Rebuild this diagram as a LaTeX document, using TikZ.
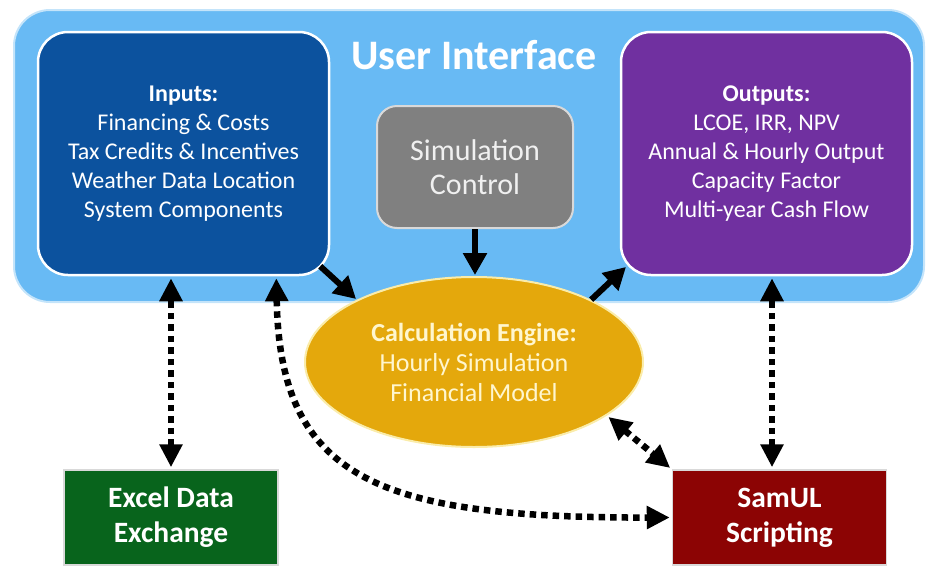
\documentclass[tikz,border=0pt]{standalone}
\usepackage{fontspec}
\setmainfont{Carlito}
\usetikzlibrary{arrows.meta,shapes.geometric}

\definecolor{uiblue}{RGB}{104,186,244}
\definecolor{uiedge}{RGB}{196,228,250}
\definecolor{inblue}{RGB}{12,82,158}
\definecolor{outpurple}{RGB}{112,48,160}
\definecolor{ctrlgray}{RGB}{128,128,128}
\definecolor{enginegold}{RGB}{228,168,12}
\definecolor{engineedge}{RGB}{250,236,170}
\definecolor{enginetext}{RGB}{255,246,206}
\definecolor{excelgreen}{RGB}{8,100,28}
\definecolor{samulred}{RGB}{140,4,4}

\tikzset{
  panel/.style={draw=white, line width=2.5pt, rounded corners=30pt, text=white,
    align=center, minimum width=291pt, minimum height=243pt,
    font=\fontsize{24}{29}\selectfont},
  toolbox/.style={draw=white!85!black, line width=1.5pt, text=white, align=center,
    minimum width=214pt, minimum height=95pt,
    font=\fontsize{29.5}{35}\selectfont\bfseries},
  flow/.style={line width=6pt, -{Triangle[length=22pt,width=23pt]}, shorten >=1pt},
  link/.style={line width=6.5pt, dash pattern=on 6.5pt off 5pt,
    {Triangle[length=23pt,width=22pt]}-{Triangle[length=23pt,width=22pt]},
    shorten <=2pt, shorten >=2pt}
}

\begin{document}
\begin{tikzpicture}[x=1pt,y=-1pt]
  \useasboundingbox (0,0) rectangle (929,571);

  % user interface frame
  \node[fill=uiblue, draw=uiedge, line width=2pt, rounded corners=36pt,
        minimum width=910pt, minimum height=292pt] (ui) at (469,156) {};
  \node[text=white, font=\fontsize{42}{46}\selectfont\bfseries] (uititle) at (474,55) {User Interface};

  \node[panel, fill=inblue] (inputs) at (183.5,153.5)
    {{\bfseries Inputs:}\\Financing \& Costs\\Tax Credits \& Incentives\\Weather Data Location\\System Components};
  \node[panel, fill=outpurple] (outputs) at (766.5,153.5)
    {{\bfseries Outputs:}\\LCOE, IRR, NPV\\Annual \& Hourly Output\\Capacity Factor\\Multi-year Cash Flow};
  \node[draw=white!85!black, line width=2pt, rounded corners=20pt, fill=ctrlgray,
        text=white!94!black, align=center, minimum width=196pt, minimum height=122pt,
        font=\fontsize{30}{34}\selectfont] (ctrl) at (475,167) {Simulation\\Control};

  % engine and tools
  \node[ellipse, fill=enginegold, draw=engineedge, line width=2pt, text=enginetext,
        align=center, minimum width=338pt, minimum height=170pt,
        font=\fontsize{26}{30}\selectfont] (engine) at (474,362)
    {{\bfseries Calculation Engine:}\\Hourly Simulation\\Financial Model};
  \node[toolbox, fill=excelgreen] (excel) at (171,517.5) {Excel Data\\Exchange};
  \node[toolbox, fill=samulred] (samul) at (779.5,517.5) {SamUL\\Scripting};

  % solid flows
  \draw[flow] ([shift={(-10,-10)}]inputs.south east) -- (engine.152);
  \draw[flow] (ctrl.south) -- (ctrl.south |- engine.north);
  \draw[flow] (engine.28) -- ([shift={(7,-10)}]outputs.south west);

  % dotted links
  \coordinate (samtop) at ([xshift=-7.5pt]samul.north);
  \draw[link] (excel.north) -- (excel.north |- inputs.south);
  \draw[link] (samtop) -- (samtop |- outputs.south);
  \draw[link] (engine.-22) -- (samul.north west);
  \draw[link] ([xshift=-54pt]inputs.south east) .. controls (280,480) and (380,518) .. (samul.west);
\end{tikzpicture}
\end{document}
